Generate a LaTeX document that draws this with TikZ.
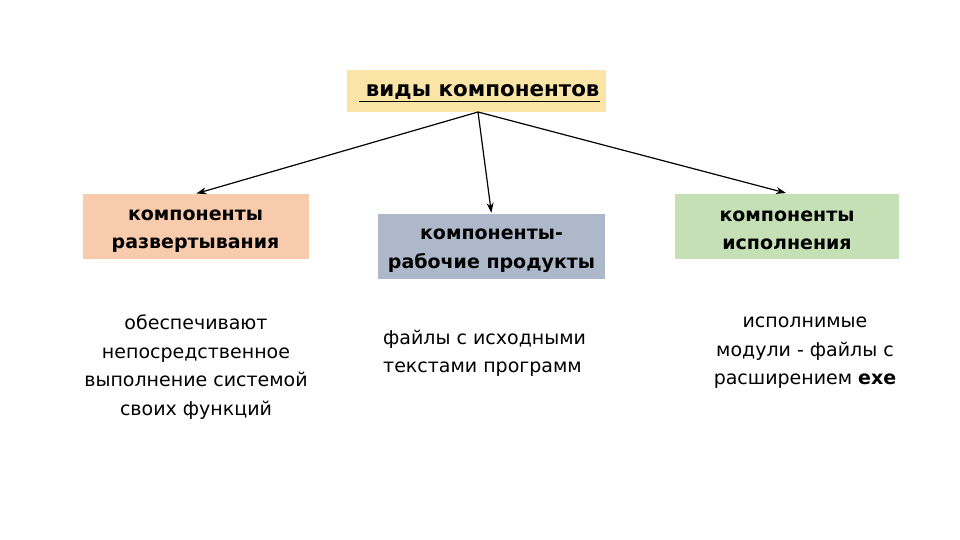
\documentclass[tikz,border=0pt]{standalone}
\usepackage{fontspec}
\setmainfont{DejaVu Sans}
\usetikzlibrary{arrows.meta}
\definecolor{topfill}{HTML}{FBE5A6}
\definecolor{leftfill}{HTML}{F8CBAD}
\definecolor{midfill}{HTML}{ADB9CA}
\definecolor{rightfill}{HTML}{C5E0B4}
\tikzset{
  catbox/.style={minimum width=226pt, minimum height=65pt, inner sep=0pt},
  cattext/.style={inner sep=0pt, align=center, font=\fontsize{19}{28.5}\selectfont\bfseries},
  bodytext/.style={inner sep=0pt, font=\fontsize{19}{28.5}\selectfont},
  conn/.style={-{Stealth[length=10pt,width=7pt]}, line width=1.2pt, shorten >=1pt}
}
\begin{document}
\begin{tikzpicture}[x=1pt,y=-1pt]
\useasboundingbox (0,0) rectangle (960,540);
\fill[white] (0,0) rectangle (960,540);
\node[fill=topfill, minimum width=259pt, minimum height=42pt, inner sep=0pt] (top) at (476.5,91) {};
\node[inner sep=0pt, font=\fontsize{21.4}{24}\selectfont\bfseries] (toptext) at (479,93) {\underline{\ виды компонентов}};
\node[catbox, fill=leftfill] (left) at (195.5,226.5) {};
\node[cattext] (lefttext) at (195.5,231) {компоненты\\развертывания};
\node[catbox, fill=midfill, minimum width=227pt] (mid) at (491.5,246.5) {};
\node[cattext] (midtext) at (491.5,250.5) {компоненты-\\рабочие продукты};
\node[catbox, fill=rightfill, minimum width=224pt] (right) at (787,226) {};
\node[cattext] (righttext) at (787,230.5) {компоненты\\исполнения};
\coordinate (src) at (478,112);
\draw[conn] (src) -- (left.north);
\draw[conn] (src) -- (mid.north);
\draw[conn] (src) -- (right.north);
\node[bodytext, align=center] (ltext) at (196,367) {обеспечивают\\непосредственное\\выполнение системой\\своих функций};
\node[bodytext, align=left, anchor=west] (mtext) at (383,353.5) {файлы с исходными\\текстами программ};
\node[bodytext, align=center] (rtext) at (805,353) {исполнимые\\модули - файлы с\\расширением \textbf{exe}};
\end{tikzpicture}
\end{document}
